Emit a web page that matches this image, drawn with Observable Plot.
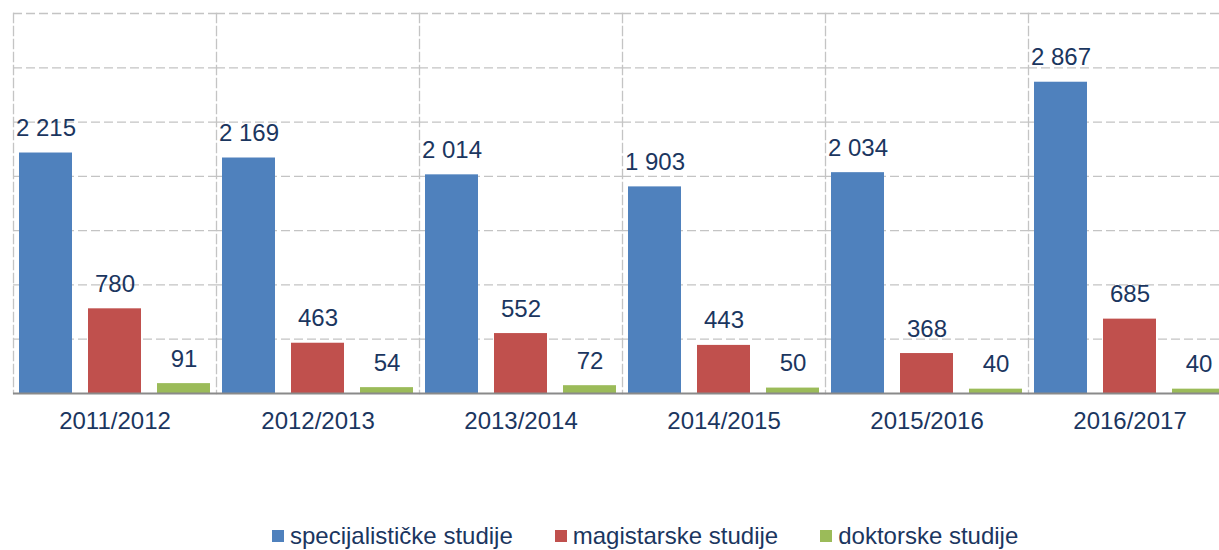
<!DOCTYPE html>
<html><head><meta charset="utf-8">
<script src="https://cdn.jsdelivr.net/npm/d3@7"></script>
<script src="https://cdn.jsdelivr.net/npm/@observablehq/plot@0.6"></script>
<style>
html,body{margin:0;padding:0;background:#fff;overflow:hidden;}
#wrap{position:relative;width:1219px;height:550px;overflow:hidden;}
#legend{position:absolute;left:272px;top:524px;display:flex;font:24px "Liberation Sans",Arial,sans-serif;line-height:24px;color:#1B365F;white-space:nowrap;}
#legend .item{display:flex;align-items:baseline;margin-right:42px;}
#legend .sw{display:inline-block;width:12px;height:12px;margin-right:6px;position:relative;top:-2px;}
</style>
</head><body>
<div id="wrap"><div id="chart"></div><div id="legend"></div></div>
<script>
const years = ["2011/2012","2012/2013","2013/2014","2014/2015","2015/2016","2016/2017"];
const seriesNames = ["specijalističke studije","magistarske studije","doktorske studije"];
const specijalisticke = [2215,2169,2014,1903,2034,2867];
const magistarske = [780,463,552,443,368,685];
const doktorske = [91,54,72,50,40,40];
const seriesColors = ["#4F81BD","#C0504D","#9BBB59"];
const gridValues = [500,1000,1500,2000,2500,3000,3500];

const seriesValues = [specijalisticke, magistarske, doktorske];
const rows = [];
years.forEach((y, i) => seriesNames.forEach((s, j) => rows.push({year: y, series: s, value: seriesValues[j][i]})));

const fmt = d3.formatLocale({decimal: ",", thousands: " ", grouping: [3], currency: ["", ""]}).format(",d");

const plot = Plot.plot({
  width: 1219, height: 450,
  marginTop: 13, marginBottom: 57, marginLeft: 12, marginRight: 0,
  fx: {domain: years, range: [12, 1232], padding: 0, axis: "bottom", tickSize: 0, tickPadding: 18, label: null},
  x: {domain: seriesNames, paddingInner: 0.232, paddingOuter: 0.087, axis: null},
  y: {domain: [0, 3500], axis: null},
  color: {domain: seriesNames, range: seriesColors},
  style: {fontSize: "24px", fontFamily: "'Liberation Sans', Arial, sans-serif", color: "#1B365F", background: "#fff"},
  marks: [
    Plot.ruleY(gridValues, {stroke: "#c4c4c4", strokeDasharray: "9,4", strokeWidth: 1.3}),
    Plot.frame({anchor: "left", stroke: "#c4c4c4", strokeDasharray: "9,4", strokeWidth: 1.3}),
    Plot.barY(rows, {fx: "year", x: "series", y: "value", fill: "series"}),
    Plot.ruleY([0], {stroke: "#8a8a8a", strokeWidth: 2}),
    Plot.text(rows, {fx: "year", x: "series", y: "value", text: d => fmt(d.value), dy: -17, lineAnchor: "bottom", fill: "#1B365F", fontSize: 24})
  ]
});
document.getElementById("chart").appendChild(plot);

const color = plot.scale("color");
const legend = document.getElementById("legend");
seriesNames.forEach(s => {
  const item = document.createElement("div");
  item.className = "item";
  const sw = document.createElement("span");
  sw.className = "sw";
  sw.style.background = color.apply(s);
  item.appendChild(sw);
  item.appendChild(document.createTextNode(s));
  legend.appendChild(item);
});
</script>
</body></html>
